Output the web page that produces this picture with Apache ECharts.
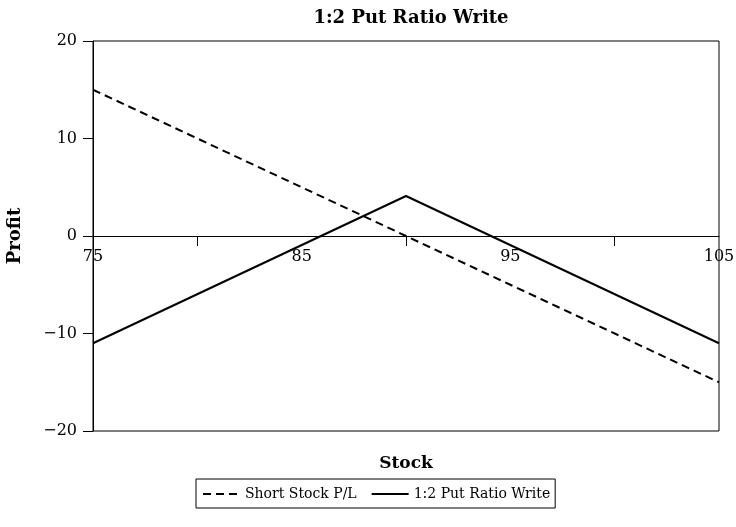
<!DOCTYPE html>
<html>
<head>
<meta charset="utf-8">
<script src="https://cdn.jsdelivr.net/npm/echarts@6/dist/echarts.min.js"></script>
<style>html,body{margin:0;padding:0;background:#fff}#c{width:736px;height:527px}</style>
</head>
<body>
<div id="c"></div>
<script>
const stockPrices = [75, 90, 105];
const shortStockPL = [15, 0, -15];
const putRatioWrite = [-11, 4.1, -11];
const xLabelValues = [75, 85, 95, 105];
const xTickValues = [80, 90, 100];

const FONT = 'DejaVu Serif';
const chart = echarts.init(document.getElementById('c'));
chart.setOption({
  animation: false,
  backgroundColor: '#fff',
  title: {
    text: '1:2 Put Ratio Write',
    left: 406, top: 4, textAlign: 'center',
    textStyle: { fontFamily: FONT, fontWeight: 'bold', fontSize: 18, color: '#000' }
  },
  grid: { left: 93, right: 17, top: 41, bottom: 96, show: true, borderColor: '#000', borderWidth: 1,
          backgroundColor: 'transparent', containLabel: false, outerBoundsMode: 'none' },
  legend: {
    bottom: 19, left: 196,
    borderColor: '#000', borderWidth: 1, borderRadius: 0,
    padding: [8, 5, 7, 6], itemGap: 14, itemWidth: 37, itemHeight: 10,
    itemStyle: { color: 'rgba(0,0,0,0)', borderWidth: 0 },
    textStyle: { fontFamily: FONT, fontSize: 14, color: '#000' },
    data: ['Short Stock P/L', '1:2 Put Ratio Write']
  },
  xAxis: [
    {
      type: 'value', min: 75, max: 105, interval: 5,
      name: 'Stock', nameLocation: 'middle', nameGap: 24,
      nameTextStyle: { fontFamily: FONT, fontWeight: 'bold', fontSize: 17, color: '#000' },
      axisLine: { onZero: true, lineStyle: { color: '#000', width: 1 } },
      axisTick: { show: true, length: 10, customValues: xTickValues, lineStyle: { color: '#000' } },
      axisLabel: { show: false },
      splitLine: { show: false }
    },
    {
      type: 'value', min: 75, max: 105, interval: 5, position: 'bottom', offset: -195,
      axisLine: { show: false, onZero: false },
      axisTick: { show: false },
      axisLabel: { customValues: xLabelValues, margin: 13, fontFamily: FONT, fontSize: 16, color: '#000' },
      splitLine: { show: false }
    }
  ],
  yAxis: {
    type: 'value', min: -20, max: 20, interval: 10,
    name: 'Profit', nameLocation: 'middle', nameGap: 69, nameRotate: 90,
    nameTextStyle: { fontFamily: FONT, fontWeight: 'bold', fontSize: 18, color: '#000' },
    axisLine: { show: true, lineStyle: { color: '#000', width: 1 } },
    axisTick: { show: true, length: 10, lineStyle: { color: '#000' } },
    axisLabel: { margin: 16, fontFamily: FONT, fontSize: 16, color: '#000',
      formatter: v => (v < 0 ? '\u2212' + Math.abs(v) : String(v)) },
    splitLine: { show: false }
  },
  series: [
    {
      name: 'Short Stock P/L', type: 'line', symbol: 'none',
      data: stockPrices.map((x, i) => [x, shortStockPL[i]]),
      lineStyle: { color: '#000', width: 2, type: [8, 5] },
      itemStyle: { color: '#000' }
    },
    {
      name: '1:2 Put Ratio Write', type: 'line', symbol: 'none',
      data: stockPrices.map((x, i) => [x, putRatioWrite[i]]),
      lineStyle: { color: '#000', width: 2, type: 'solid' },
      itemStyle: { color: '#000' }
    }
  ]
});
</script>
</body>
</html>
